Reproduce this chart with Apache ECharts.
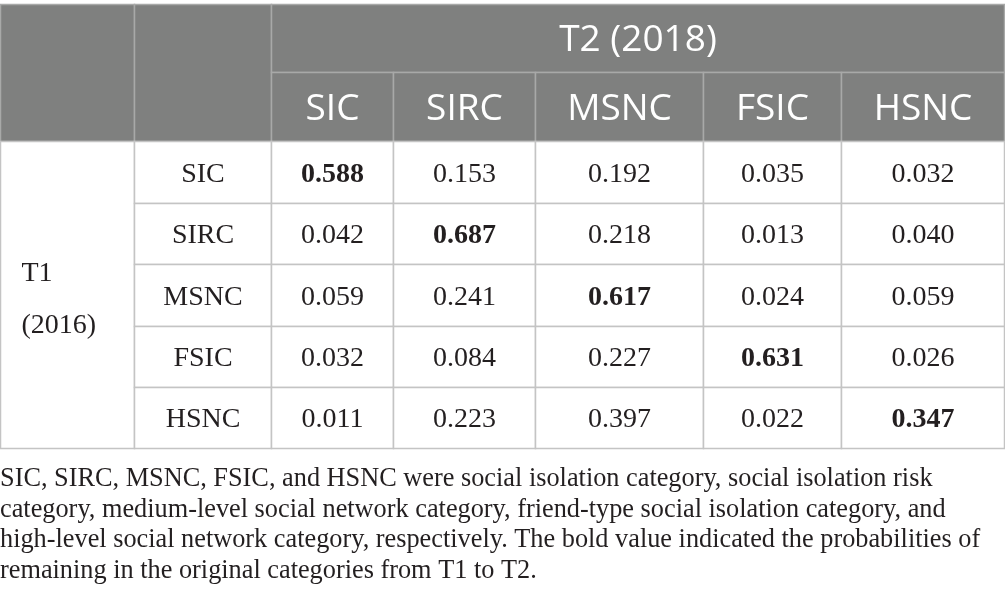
<!DOCTYPE html>
<html>
<head>
<meta charset="utf-8">
<script src="https://cdn.jsdelivr.net/npm/echarts@6/dist/echarts.min.js"></script>
<style>
html,body{margin:0;padding:0;background:#fff;}
#chart{width:1005px;height:613px;}
</style>
</head>
<body>
<div id="chart"></div>
<script>
// ---- content ----
const categories = ['SIC', 'SIRC', 'MSNC', 'FSIC', 'HSNC'];
const t2Label = 'T2 (2018)';
const t1Label = 'T1\n(2016)';
const rowSIC  = [0.588, 0.153, 0.192, 0.035, 0.032];
const rowSIRC = [0.042, 0.687, 0.218, 0.013, 0.040];
const rowMSNC = [0.059, 0.241, 0.617, 0.024, 0.059];
const rowFSIC = [0.032, 0.084, 0.227, 0.631, 0.026];
const rowHSNC = [0.011, 0.223, 0.397, 0.022, 0.347];
const footnoteLines = [
  'SIC, SIRC, MSNC, FSIC, and HSNC were social isolation category, social isolation risk',
  'category, medium-level social network category, friend-type social isolation category, and',
  'high-level social network category, respectively. The bold value indicated the probabilities of',
  'remaining in the original categories from T1 to T2.'
];

// ---- layout (table grid edges in axis units) ----
const colEdges = [0, 134, 271, 393, 535, 703, 841, 1004];
const rowEdges = [4, 72, 141, 203, 264, 326, 387, 448];

const matrix = [rowSIC, rowSIRC, rowMSNC, rowFSIC, rowHSNC];

// cells: [c0, c1, r0, r1, text, kind, bold]
const cells = [];
cells.push([0, 1, 0, 2, '', 'head', 0]);
cells.push([1, 2, 0, 2, '', 'head', 0]);
cells.push([2, 7, 0, 1, t2Label, 'head', 0]);
categories.forEach((c, i) => cells.push([2 + i, 3 + i, 1, 2, c, 'head', 0]));
cells.push([0, 1, 2, 7, t1Label, 'side', 0]);
categories.forEach((c, r) => {
  cells.push([1, 2, 2 + r, 3 + r, c, 'body', 0]);
  matrix[r].forEach((v, k) => {
    cells.push([2 + k, 3 + k, 2 + r, 3 + r, v.toFixed(3), 'body', r === k ? 1 : 0]);
  });
});

const chart = echarts.init(document.getElementById('chart'));
chart.setOption({
  animation: false,
  grid: {left: 0, right: 0, top: 0, bottom: 0},
  xAxis: {type: 'value', min: 0, max: 1005, show: false},
  yAxis: {type: 'value', min: 0, max: 613, inverse: true, show: false},
  title: {
    text: footnoteLines.join('\n'),
    left: 0, top: 464, padding: 0,
    textStyle: {fontFamily: 'Liberation Serif', fontSize: 26.3, fontWeight: 'normal', color: '#231f20', lineHeight: 30.5}
  },
  series: [{
    type: 'custom',
    coordinateSystem: 'cartesian2d',
    data: cells,
    renderItem: function (params, api) {
      const c0 = api.value(0), c1 = api.value(1), r0 = api.value(2), r1 = api.value(3);
      const d = cells[params.dataIndex];
      const kind = d[5];
      const p0 = api.coord([colEdges[c0], rowEdges[r0]]);
      const p1 = api.coord([colEdges[c1], rowEdges[r1]]);
      const x = Math.round(p0[0]) + 0.5, y = Math.round(p0[1]) + 0.5;
      const w = Math.round(p1[0]) - Math.round(p0[0]), h = Math.round(p1[1]) - Math.round(p0[1]);
      const isHead = kind === 'head';
      const children = [{
        type: 'rect',
        shape: {x: x, y: y, width: w, height: h},
        style: {fill: isHead ? '#7f807f' : '#ffffff', stroke: isHead ? '#a8a9a8' : '#c4c4c4', lineWidth: 1.5}
      }];
      if (kind === 'side') {
        children.push({
          type: 'text',
          style: {
            text: d[4], x: x + 21, y: y + h / 2 + 5,
            fill: '#231f20', font: '28px "Liberation Serif"', lineHeight: 52,
            align: 'left', verticalAlign: 'middle'
          }
        });
      } else if (d[4]) {
        children.push({
          type: 'text',
          style: {
            text: d[4], x: x + w / 2, y: y + h / 2 + 2,
            fill: isHead ? '#ffffff' : '#231f20',
            font: isHead ? '37px "Open Sans"' : ((d[6] ? 'bold ' : '') + '28px "Liberation Serif"'),
            align: 'center', verticalAlign: 'middle'
          }
        });
      }
      return {type: 'group', children: children};
    }
  }]
});
</script>
</body>
</html>
